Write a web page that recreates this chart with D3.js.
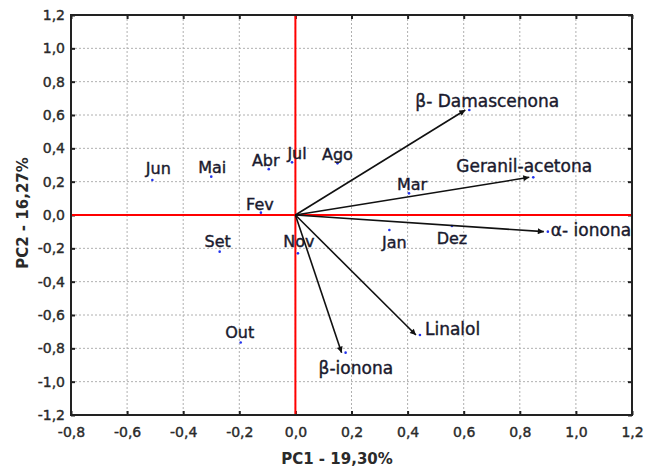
<!DOCTYPE html>
<html>
<head>
<meta charset="utf-8">
<script src="https://cdn.jsdelivr.net/npm/d3@7"></script>
<style>
  body { margin: 0; background: #fff; }
  text { font-family: "DejaVu Sans", Verdana, sans-serif; }
</style>
</head>
<body>
<div id="chart-area"></div>
<script>
let width = 645,
height = 468;

// month scores
let months = ["Jun", "Mai", "Abr", "Jul", "Ago", "Fev", "Set", "Nov", "Jan", "Mar", "Dez", "Out"];
let monthPC1 = [-0.51, -0.30, -0.095, -0.012, 0.15, -0.123, -0.27, 0.009, 0.335, 0.405, 0.558, -0.195];
let monthPC2 = [0.21, 0.23, 0.275, 0.316, 0.31, 0.014, -0.22, -0.23, -0.09, 0.13, -0.066, -0.765];

// compound loadings
let compounds = ["β- Damascenona", "Geranil-acetona", "α- ionona", "Linalol", "β-ionona"];
let loadPC1 = [0.62, 0.848, 0.90, 0.444, 0.179];
let loadPC2 = [0.63, 0.226, -0.10, -0.72, -0.826];

let xTicks = [-0.8, -0.6, -0.4, -0.2, 0, 0.2, 0.4, 0.6, 0.8, 1.0, 1.2];
let yTicks = [-1.2, -1.0, -0.8, -0.6, -0.4, -0.2, 0, 0.2, 0.4, 0.6, 0.8, 1.0, 1.2];

// label placement (pixels, relative to the point)
let monthOffsets = [[6, -6], [1, -4], [-3, -3], [5, -3], [0, -3], [-1, -3], [-2, -5], [1, -6], [5, 18], [3, -3], [0, 18], [-1, -5]];
let compoundOffsets = [[-54, -3], [-77, -5], [3, 4], [5, 0], [-27, 21]];

let pLeft = 71, pRight = 632, pTop = 15, pBottom = 415;

let svg = d3.select("#chart-area").append("svg")
	.attr("width", width)
	.attr("height", height);

let x = d3.scaleLinear().domain([-0.8, 1.2]).range([pLeft, pRight]);
let y = d3.scaleLinear().domain([-1.2, 1.2]).range([pBottom, pTop]);

let fmt = d => d3.format(".1f")(d).replace(".", ",").replace("\u2212", "-");

// grid
svg.append("g").selectAll("line")
	.data(xTicks.slice(1, -1))
	.enter().append("line")
	.attr("x1", d => x(d)).attr("x2", d => x(d))
	.attr("y1", pTop).attr("y2", pBottom)
	.attr("stroke", "#b0b0b0")
	.attr("stroke-dasharray", "2,2");

svg.append("g").selectAll("line")
	.data(yTicks.slice(1, -1))
	.enter().append("line")
	.attr("y1", d => y(d)).attr("y2", d => y(d))
	.attr("x1", pLeft).attr("x2", pRight)
	.attr("stroke", "#b0b0b0")
	.attr("stroke-dasharray", "2,2");

// axes (ticks inside)
let axB = svg.append("g").attr("transform", "translate(0," + pBottom + ")")
	.call(d3.axisBottom(x).tickValues(xTicks).tickSizeInner(-4).tickSizeOuter(0).tickPadding(12).tickFormat(fmt));
let axL = svg.append("g").attr("transform", "translate(" + pLeft + ",0)")
	.call(d3.axisLeft(y).tickValues(yTicks).tickSizeInner(-4).tickSizeOuter(0).tickPadding(6).tickFormat(fmt));
svg.append("g").attr("transform", "translate(0," + pTop + ")")
	.call(d3.axisTop(x).tickValues(xTicks).tickSizeInner(-4).tickSizeOuter(0).tickFormat(""));
svg.append("g").attr("transform", "translate(" + pRight + ",0)")
	.call(d3.axisRight(y).tickValues(yTicks).tickSizeInner(-4).tickSizeOuter(0).tickFormat(""));

svg.selectAll(".domain").remove();
svg.selectAll(".tick line").attr("stroke", "#222").attr("stroke-width", 2);
svg.selectAll(".tick text")
	.attr("font-size", 14)
	.attr("font-family", "DejaVu Sans")
	.attr("fill", "#2a2a2a")
	.attr("stroke", "#2a2a2a")
	.attr("stroke-width", 0.4);
axB.selectAll(".tick text").attr("dy", "0.71em");

// zero lines
svg.append("line")
	.attr("x1", pLeft).attr("x2", pRight)
	.attr("y1", y(0)).attr("y2", y(0))
	.attr("stroke", "#ff0000").attr("stroke-width", 2);
svg.append("line")
	.attr("x1", x(0)).attr("x2", x(0))
	.attr("y1", pTop).attr("y2", pBottom)
	.attr("stroke", "#ff0000").attr("stroke-width", 2);

// frame
svg.append("rect")
	.attr("x", pLeft).attr("y", pTop)
	.attr("width", pRight - pLeft).attr("height", pBottom - pTop)
	.attr("fill", "none")
	.attr("stroke", "#222")
	.attr("stroke-width", 2);

// arrowhead
svg.append("defs").append("marker")
	.attr("id", "arrow")
	.attr("viewBox", "0 0 10 10")
	.attr("refX", 10).attr("refY", 5)
	.attr("markerWidth", 9).attr("markerHeight", 6)
	.attr("markerUnits", "userSpaceOnUse")
	.attr("orient", "auto")
	.append("path")
	.attr("d", "M0,0L10,5L0,10z")
	.attr("fill", "#111");

// month points
let mGroup = svg.append("g");
mGroup.selectAll("circle")
	.data(months)
	.enter().append("circle")
	.attr("cx", (d, i) => x(monthPC1[i]))
	.attr("cy", (d, i) => y(monthPC2[i]))
	.attr("r", 1.3)
	.attr("fill", "#2233ee");

// loading vectors
let lGroup = svg.append("g");
lGroup.selectAll("line")
	.data(compounds)
	.enter().append("line")
	.attr("x1", x(0)).attr("y1", y(0))
	.attr("x2", (d, i) => x(loadPC1[i]) - 4 * Math.sign(loadPC1[i]))
	.attr("y2", (d, i) => y(loadPC2[i]))
	.attr("stroke", "#111")
	.attr("stroke-width", 1.6)
	.attr("marker-end", "url(#arrow)");
lGroup.selectAll("circle")
	.data(compounds)
	.enter().append("circle")
	.attr("cx", (d, i) => x(loadPC1[i]))
	.attr("cy", (d, i) => y(loadPC2[i]))
	.attr("r", 1.3)
	.attr("fill", "#2233ee");

// labels
mGroup.selectAll("text")
	.data(months)
	.enter().append("text")
	.attr("x", (d, i) => x(monthPC1[i]) + monthOffsets[i][0])
	.attr("y", (d, i) => y(monthPC2[i]) + monthOffsets[i][1])
	.attr("text-anchor", "middle")
	.attr("font-size", 16)
	.attr("fill", "#1a1a2e")
	.attr("stroke", "#1a1a2e")
	.attr("stroke-width", 0.4)
	.text(d => d);

lGroup.selectAll("text")
	.data(compounds)
	.enter().append("text")
	.attr("x", (d, i) => x(loadPC1[i]) + compoundOffsets[i][0])
	.attr("y", (d, i) => y(loadPC2[i]) + compoundOffsets[i][1])
	.attr("font-size", 17)
	.attr("fill", "#1a1a2e")
	.attr("stroke", "#1a1a2e")
	.attr("stroke-width", 0.4)
	.text(d => d);

// axis titles
svg.append("text")
	.attr("x", 337).attr("y", 464)
	.attr("text-anchor", "middle")
	.attr("font-size", 15)
	.attr("font-weight", "bold")
	.attr("fill", "#2a2a2a")
	.text("PC1 - 19,30%");
svg.append("text")
	.attr("transform", "translate(28,213) rotate(-90)")
	.attr("text-anchor", "middle")
	.attr("font-size", 15)
	.attr("font-weight", "bold")
	.attr("fill", "#2a2a2a")
	.text("PC2 - 16,27%");
</script>
</body>
</html>
